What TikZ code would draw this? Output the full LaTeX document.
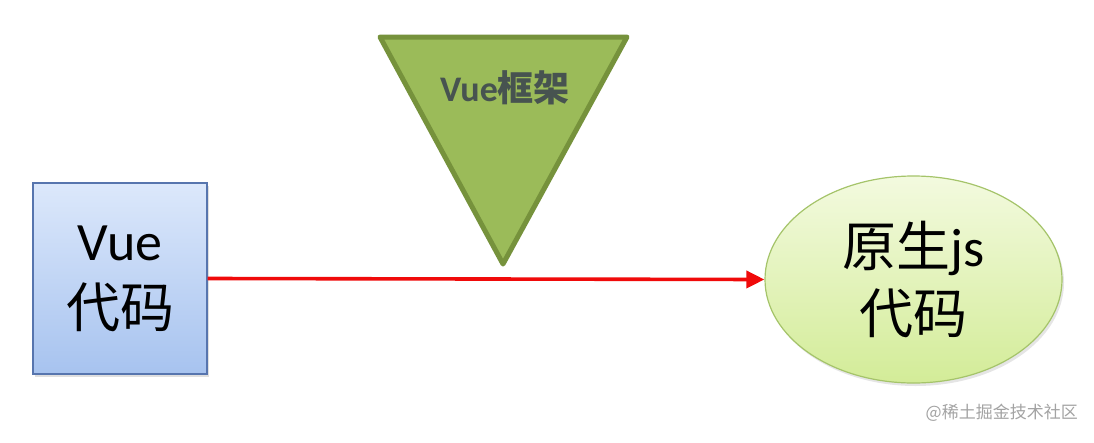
\documentclass[tikz,border=0pt]{standalone}
\usepackage{fontspec}
\setmainfont{Carlito}
\newfontfamily\cjk{Noto Sans CJK SC}
\usetikzlibrary{shapes.geometric,arrows.meta,shadows}
\definecolor{boxtop}{HTML}{DCE8FB}
\definecolor{boxbot}{HTML}{A7C3EF}
\definecolor{boxline}{HTML}{5775AE}
\definecolor{trifill}{HTML}{9BBB59}
\definecolor{triline}{HTML}{76923C}
\definecolor{tritext}{HTML}{475350}
\definecolor{elltop}{HTML}{F3FADF}
\definecolor{ellbot}{HTML}{D3EC98}
\definecolor{ellline}{HTML}{A5C46A}
\definecolor{arrowred}{HTML}{F00A0A}
\definecolor{wmgray}{HTML}{A3A3A3}
\tikzset{
  codebox/.style={draw=boxline, line width=1.2pt, top color=boxtop, bottom color=boxbot,
    minimum width=174pt, minimum height=191pt, inner sep=0pt, align=center,
    font=\fontsize{54}{67}\selectfont,
    drop shadow={shadow xshift=2pt, shadow yshift=-3pt, opacity=0.25}},
  codeell/.style={ellipse, draw=ellline, line width=1.2pt, top color=elltop, bottom color=ellbot,
    minimum width=297pt, minimum height=207pt, inner sep=0pt, align=center,
    font=\fontsize{54}{67}\selectfont,
    drop shadow={shadow xshift=2pt, shadow yshift=-3pt, opacity=0.2}},
  frame/.style={draw=triline, line width=5pt, fill=trifill, line join=round},
  flow/.style={draw=arrowred, line width=3.6pt, -{Triangle[length=18pt,width=17pt]}},
}
\begin{document}
\begin{tikzpicture}[x=1pt,y=-1pt]
\useasboundingbox (0,0) rectangle (1094,442);
\fill[white] (0,0) rectangle (1094,442);
% triangle
\coordinate (t1) at (380,37);
\coordinate (t2) at (627,37);
\coordinate (t3) at (503,264);
\draw[frame] (t1) -- (t2) -- (t3) -- cycle;
\node[text=tritext, font=\bfseries\fontsize{36}{36}\selectfont, inner sep=0pt] (tl) at (505,88) {Vue{\cjk 框架}};
% box
\node[codebox] (vue) at (120,278.5) {Vue\\{\cjk 代码}};
% ellipse
\node[codeell] (js) at (913.5,279.5) {{\cjk 原生}js\\{\cjk 代码}};
% arrow
\draw[flow] (vue.east) -- (js.west);
% watermark
\node[text=wmgray, font=\cjk\fontsize{17}{17}\selectfont, anchor=east, inner sep=0pt] (wm) at (1078,413) {@稀土掘金技术社区};
\end{tikzpicture}
\end{document}
